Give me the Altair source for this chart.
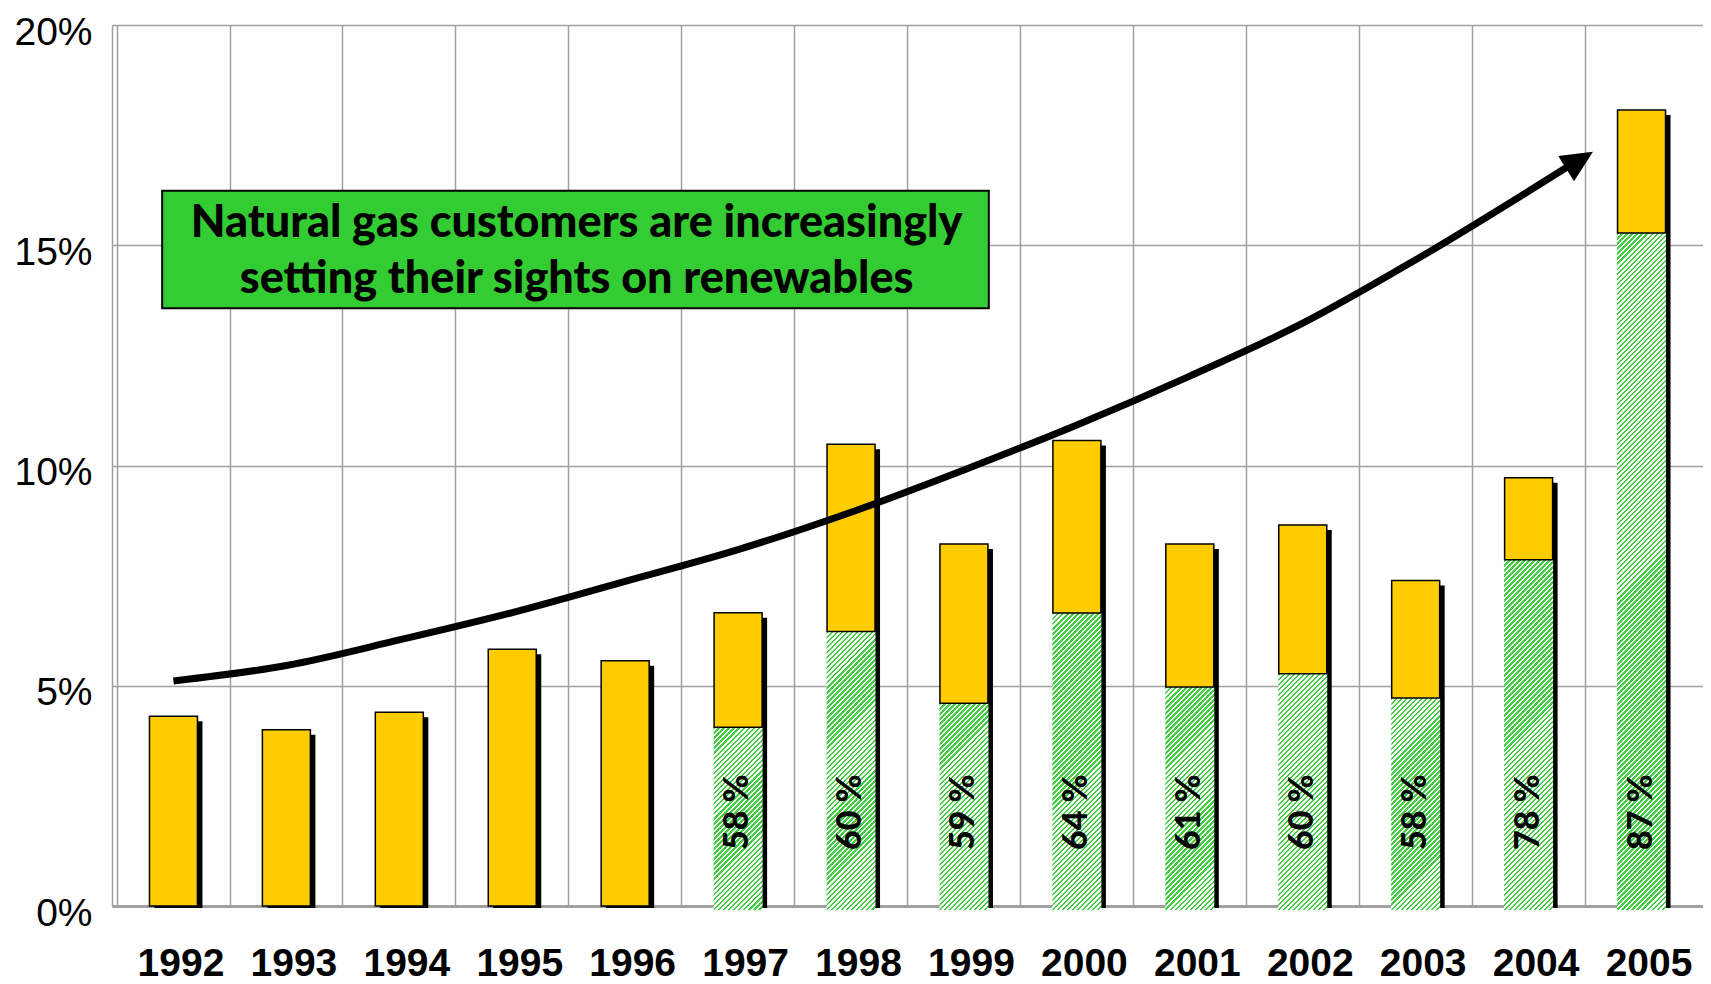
import altair as alt
import pandas as pd

# ---- data ----
years = list(range(1992, 2006))
total_share = [4.31, 4.00, 4.40, 5.83, 5.57, 6.66, 10.48, 8.22, 10.57, 8.22, 8.65, 7.39, 9.72, 18.07]
renewable_share = [0, 0, 0, 0, 0, 4.06, 6.23, 4.60, 6.65, 4.97, 5.27, 4.72, 7.86, 15.28]

pct_years = [1997, 1998, 1999, 2000, 2001, 2002, 2003, 2004, 2005]
pct_labels = ["58 %", "60 %", "59 %", "64 %", "61 %", "60 %", "58 %", "78 %", "87 %"]

trend_x = [1992, 1993, 1994, 1995, 1996, 1997, 1998, 1999, 2000, 2001, 2002, 2003, 2004.42]
trend_y = [5.11, 5.46, 6.04, 6.66, 7.37, 8.09, 8.94, 9.90, 10.92, 12.03, 13.23, 14.67, 16.90]
arrow_tip = (2004.57, 17.12)

note_text = "Natural gas customers are increasingly\nsetting their sights on renewables"
note_box = (1991.9, 1999.22, 16.24, 13.57)
note_pos = (1995.57, 15.50)

y_ticks = [0, 5, 10, 15, 20]

# ---- tables ----
bars = pd.DataFrame({"year": years, "total": total_share, "green": renewable_share})
bars_green = bars[bars["green"] > 0]
pct = pd.DataFrame({"year": pct_years, "label": pct_labels, "pos": [2.13] * len(pct_years)})
trend = pd.DataFrame({"year": trend_x, "v": trend_y})
tip = pd.DataFrame({"year": [arrow_tip[0]], "v": [arrow_tip[1]]})
box = pd.DataFrame({"x1": [note_box[0]], "x2": [note_box[1]], "y1": [note_box[2]], "y2": [note_box[3]]})
note = pd.DataFrame({"x": [note_pos[0]], "y": [note_pos[1]], "t": [note_text]})

W, H = 1591, 881
half_band = W / 14 / 2
GRID = "#a0a0a0"
BAR_W = 49
HATCH_GREEN = "#44cc44"

xscale = alt.Scale(domain=[1991.5, 2005.5], nice=False, zero=False)
yscale = alt.Scale(domain=[0, 20], nice=False)

x_axis = alt.Axis(
    values=years, format="d", grid=True, gridColor=GRID, gridWidth=1.5,
    tickOffset=-half_band, labelOffset=half_band + 7, ticks=False, tickSize=0,
    domain=True, domainColor=GRID, domainWidth=3,
    labelFont="Liberation Sans", labelFontWeight="bold", labelFontSize=39,
    labelColor="black", labelPadding=38, labelBaseline="top",
    labelFlush=False, labelOverlap=False, labelBound=False, title=None,
)
y_axis = alt.Axis(
    values=y_ticks, labelExpr="datum.value + '%'", grid=True, gridColor=GRID, gridWidth=1.5,
    ticks=False, tickSize=0, domain=True, domainColor=GRID, domainWidth=1.5,
    labelFont="Liberation Sans", labelFontSize=39, labelColor="black",
    labelPadding=20, labelBaseline="middle", labelOffset=7, title=None,
)

shadow = alt.Chart(bars).mark_bar(size=48, color="black", xOffset=5, yOffset=5, y2Offset=2).encode(
    x=alt.X("year:Q", scale=xscale, axis=x_axis),
    y=alt.Y("total:Q", scale=yscale, axis=y_axis),
    y2=alt.datum(0),
)


def hatch_fill(bar_height_px, bar_width_px=BAR_W, period=5.0):
    """Diagonal '/' hatch as a striped linear gradient in the bar's bounding box."""
    w, h = bar_width_px, bar_height_px
    c = (w + h) / (w * w + h * h)
    n = max(1, int(round((w + h) / period)))
    stops = []
    for i in range(n):
        a, m, b = i / n, (i + 0.5) / n, (i + 1) / n
        stops += [
            {"offset": a, "color": HATCH_GREEN},
            {"offset": m, "color": HATCH_GREEN},
            {"offset": m, "color": "white"},
            {"offset": b, "color": "white"},
        ]
    return {"gradient": "linear", "x1": 0, "y1": 0, "x2": c * w, "y2": c * h, "stops": stops}


green_layers = []
for _, row in bars_green.iterrows():
    h_px = row["green"] * H / 20 + 4
    green_layers.append(
        alt.Chart(bars_green[bars_green["year"] == row["year"]])
        .mark_bar(size=BAR_W, fill=hatch_fill(h_px), strokeWidth=0, y2Offset=4)
        .encode(x="year:Q", y="green:Q", y2=alt.datum(0))
    )

yellow_bars = alt.Chart(bars).mark_bar(size=48, color="#FFCC00", stroke="black", strokeWidth=1.5).encode(
    x="year:Q", y="total:Q", y2="green:Q",
)

pct_text = alt.Chart(pct).mark_text(
    angle=270, font="Lato", fontWeight=900, fontSize=34,
    color="black", align="center", baseline="middle",
).encode(x="year:Q", y="pos:Q", text="label:N")

trend_line = alt.Chart(trend).mark_line(
    color="black", strokeWidth=7, interpolate="monotone", strokeCap="butt", strokeJoin="round"
).encode(x="year:Q", y="v:Q")

arrow_head = alt.Chart(tip).mark_point(
    shape="M0,0L0.47,1L-0.47,1Z", filled=True, fill="black", strokeWidth=0,
    size=4000, angle=58, opacity=1,
).encode(x="year:Q", y="v:Q")

note_rect = alt.Chart(box).mark_rect(fill="#33CC33", stroke="black", strokeWidth=2).encode(
    x="x1:Q", x2="x2:Q", y="y1:Q", y2="y2:Q",
)

note_label = alt.Chart(note).mark_text(
    font="Lato", fontWeight=900, fontSize=45, color="black",
    align="center", baseline="middle", lineBreak="\n", lineHeight=56,
).encode(x="x:Q", y="y:Q", text="t:N")

chart = alt.layer(
    shadow, *green_layers, yellow_bars, pct_text, trend_line, arrow_head, note_rect, note_label
).properties(
    width=W, height=H,
    autosize=alt.AutoSizeParams(type="none"),
    padding={"left": 104, "top": 17, "right": 0, "bottom": 78},
).configure_view(
    stroke=GRID, strokeWidth=1.5,
).configure(background="white")

chart.save("out.html", embed_options={"renderer": "svg", "actions": False})
